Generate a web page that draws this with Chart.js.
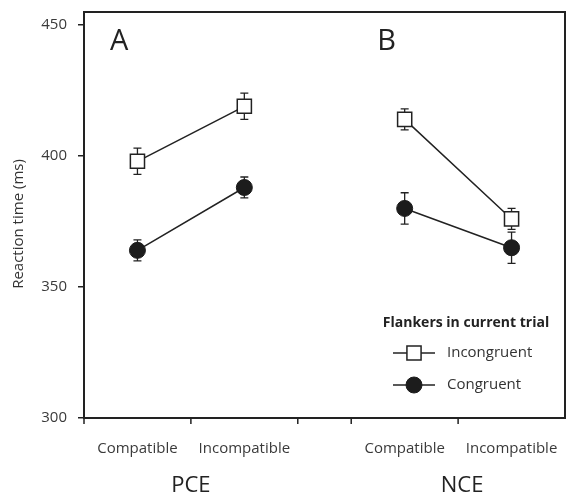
<!DOCTYPE html>
<html>
<head>
<meta charset="utf-8">
<script src="https://cdn.jsdelivr.net/npm/chart.js@4.4.1/dist/chart.umd.min.js"></script>
<style>
  html, body { margin: 0; padding: 0; background: #fff; }
  #wrap { width: 567px; height: 498px; }
</style>
</head>
<body>
<div id="wrap"><canvas id="c" width="567" height="498"></canvas></div>
<script>
// values
const groups = ['PCE', 'NCE'];
const panelLabels = ['A', 'B'];
const conditions = ['Compatible', 'Incompatible'];
const incongruentRT = [398, 419, 414, 376];
const incongruentErr = [5, 5, 4, 4];
const congruentRT = [364, 388, 380, 365];
const congruentErr = [4, 4, 6, 6];
const yTicks = [300, 350, 400, 450];
const yTitle = 'Reaction time (ms)';
const legendTitle = 'Flankers in current trial';

const FONT = '"Open Sans", "Liberation Sans", sans-serif';
const INK = '#222';
const GROUP_W = 2.5; // each group = 2 slots + half slot gap

// x position of condition j in group g
const xOf = (g, j) => g * GROUP_W + j + 0.5;

function buildSeries(vals, errs) {
    const pts = [], err = [];
    groups.forEach((g, gi) => {
        conditions.forEach((c, ci) => {
            const k = gi * conditions.length + ci;
            pts.push({ x: xOf(gi, ci), y: vals[k] });
            err.push(errs[k]);
        });
        if (gi < groups.length - 1) { pts.push({ x: xOf(gi, 1) + 0.5, y: null }); err.push(null); }
    });
    return { pts, err };
}

const inc = buildSeries(incongruentRT, incongruentErr);
const con = buildSeries(congruentRT, congruentErr);

// boundary tick marks between slots
const boundaryTicks = [];
groups.forEach((g, gi) => { for (let j = 0; j <= conditions.length; j++) if (!(gi > 0 && j === conditions.length)) boundaryTicks.push(gi * GROUP_W + j); });

const noPad = s => { s.paddingLeft = 0; s.paddingRight = 0; s.paddingTop = 0; s.paddingBottom = 0; };

const errorBars = {
    id: 'errorBars',
    beforeDatasetsDraw(chart) {
        const ctx = chart.ctx, y = chart.scales.y;
        ctx.save();
        ctx.strokeStyle = INK; ctx.lineWidth = 1.3;
        chart.data.datasets.forEach((ds, di) => {
            const meta = chart.getDatasetMeta(di);
            meta.data.forEach((el, i) => {
                const e = ds.errors[i], v = ds.data[i].y;
                if (e == null || v == null) return;
                const top = y.getPixelForValue(v + e), bot = y.getPixelForValue(v - e);
                ctx.beginPath();
                ctx.moveTo(el.x, top); ctx.lineTo(el.x, bot);
                ctx.moveTo(el.x - 4, top); ctx.lineTo(el.x + 4, top);
                ctx.moveTo(el.x - 4, bot); ctx.lineTo(el.x + 4, bot);
                ctx.stroke();
            });
        });
        ctx.restore();
    }
};

const decorations = {
    id: 'decorations',
    afterDraw(chart) {
        const ctx = chart.ctx, a = chart.chartArea, x = chart.scales.x;
        ctx.save();
        // frame
        ctx.strokeStyle = INK; ctx.lineWidth = 2;
        ctx.strokeRect(a.left, a.top, a.right - a.left, a.bottom - a.top);
        // boundary ticks
        ctx.lineWidth = 1.5;
        ctx.beginPath();
        boundaryTicks.forEach(t => {
            const px = x.getPixelForValue(t);
            ctx.moveTo(px, a.bottom); ctx.lineTo(px, a.bottom + 6);
        });
        ctx.stroke();
        // y title
        ctx.fillStyle = '#333';
        ctx.textBaseline = 'middle'; ctx.textAlign = 'center';
        ctx.font = '15px ' + FONT;
        ctx.save(); ctx.translate(19, 224); ctx.rotate(-Math.PI / 2); ctx.fillText(yTitle, 0, 0); ctx.restore();
        // group labels and panel letters
        ctx.fillStyle = INK;
        groups.forEach((g, gi) => {
            const cx = (x.getPixelForValue(xOf(gi, 0)) + x.getPixelForValue(xOf(gi, conditions.length - 1))) / 2;
            ctx.font = '22px ' + FONT; ctx.textAlign = 'center';
            ctx.fillText(g, cx + gi * 4, 486);
            ctx.font = '29px ' + FONT; ctx.textAlign = 'left';
            ctx.fillText(panelLabels[gi], x.getPixelForValue(gi * GROUP_W) + 26, 42);
        });
        // legend
        ctx.font = 'bold 14px ' + FONT; ctx.textAlign = 'center';
        ctx.fillText(legendTitle, 466, 323);
        const rows = [353, 385];
        chart.data.datasets.forEach((ds, di) => {
            const ly = rows[di];
            ctx.strokeStyle = ds.borderColor; ctx.lineWidth = ds.borderWidth;
            ctx.beginPath(); ctx.moveTo(393, ly); ctx.lineTo(435, ly); ctx.stroke();
            ctx.fillStyle = ds.pointBackgroundColor; ctx.strokeStyle = ds.pointBorderColor;
            ctx.beginPath();
            if (ds.pointStyle === 'rect') {
                const s = ds.pointRadius * Math.SQRT1_2;
                ctx.rect(414 - s, ly - s, 2 * s, 2 * s);
            } else {
                ctx.arc(414, ly, ds.pointRadius, 0, Math.PI * 2);
            }
            ctx.fill(); ctx.lineWidth = ds.pointBorderWidth; ctx.stroke();
            ctx.fillStyle = '#333'; ctx.font = '15px ' + FONT; ctx.textAlign = 'left';
            ctx.fillText(ds.label, 447, ly);
        });
        ctx.restore();
    }
};

new Chart(document.getElementById('c'), {
    type: 'line',
    data: {
        datasets: [
            { label: 'Incongruent', data: inc.pts, errors: inc.err, borderColor: INK, borderWidth: 1.5,
              pointStyle: 'rect', pointRadius: 10, pointBackgroundColor: '#fff', pointBorderColor: INK, pointBorderWidth: 1.5 },
            { label: 'Congruent', data: con.pts, errors: con.err, borderColor: INK, borderWidth: 1.5,
              pointStyle: 'circle', pointRadius: 8, pointBackgroundColor: '#1c1c1c', pointBorderColor: '#1c1c1c', pointBorderWidth: 1 }
        ]
    },
    options: {
        responsive: false, animation: false, devicePixelRatio: 1,
        spanGaps: false,
        layout: { autoPadding: false, padding: { top: 12, right: 2, left: 0, bottom: 0 } },
        plugins: { legend: { display: false }, tooltip: { enabled: false } },
        scales: {
            x: {
                type: 'linear', min: 0, max: groups.length * GROUP_W - 0.5,
                afterBuildTicks: s => { s.ticks = []; groups.forEach((g, gi) => conditions.forEach((c, ci) => s.ticks.push({ value: xOf(gi, ci) }))); },
                afterFit: s => { s.height = 80; noPad(s); },
                ticks: {
                    autoSkip: false, maxRotation: 0, padding: 22, color: '#3a3a3a', font: { family: FONT, size: 15 },
                    callback: v => conditions[Math.round((v % GROUP_W) - 0.5)]
                },
                grid: { display: false, drawTicks: false },
                border: { display: true, color: INK, width: 2 }
            },
            y: {
                min: 300, max: 455,
                afterBuildTicks: s => { s.ticks = yTicks.map(v => ({ value: v })); },
                afterFit: s => { s.width = 84; noPad(s); },
                ticks: { padding: 11, color: '#3a3a3a', font: { family: FONT, size: 15 } },
                grid: { drawOnChartArea: false, drawTicks: true, tickLength: 6, color: INK, lineWidth: 1.5 },
                border: { display: true, color: INK, width: 2 }
            }
        }
    },
    plugins: [errorBars, decorations]
});
</script>
</body>
</html>
